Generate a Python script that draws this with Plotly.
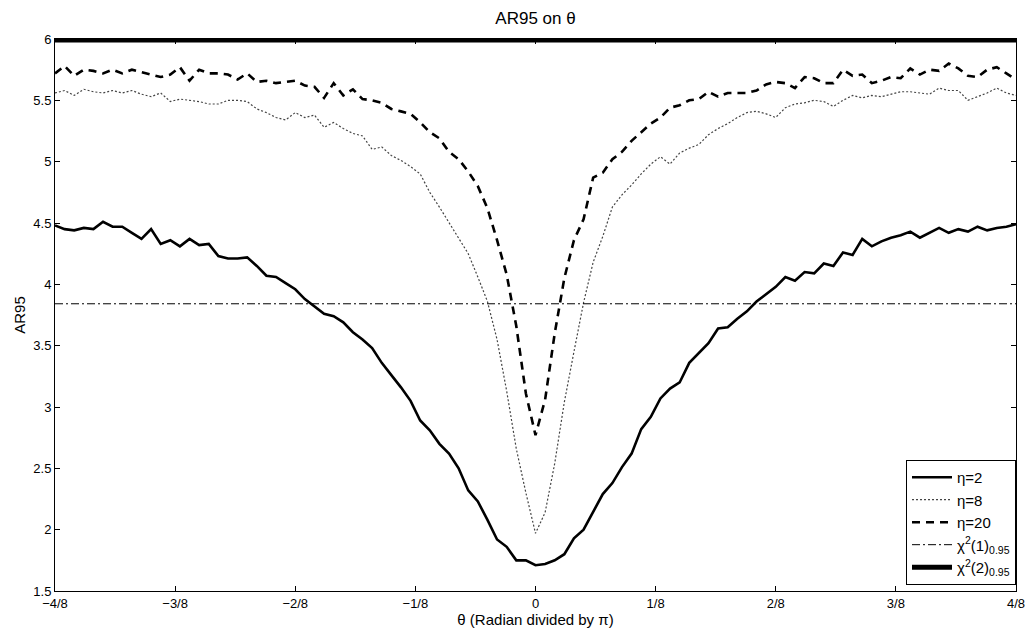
import numpy as np
import plotly.graph_objects as go

# theta grid (radian / pi)
theta = np.round(np.arange(-50, 51) / 100.0, 2)

eta2 = [4.48, 4.45, 4.44, 4.46, 4.45, 4.51, 4.47, 4.47, 4.42, 4.37,
        4.45, 4.33, 4.36, 4.31, 4.37, 4.32, 4.33, 4.23, 4.21, 4.21,
        4.22, 4.15, 4.07, 4.06, 4.01, 3.96, 3.88, 3.82, 3.76, 3.74,
        3.69, 3.61, 3.55, 3.48, 3.36, 3.26, 3.16, 3.05, 2.89, 2.81,
        2.70, 2.62, 2.50, 2.32, 2.23, 2.08, 1.92, 1.86, 1.75, 1.75,
        1.71,
        1.72, 1.75, 1.80, 1.93, 2.00, 2.14, 2.29, 2.38, 2.51, 2.62,
        2.82, 2.92, 3.07, 3.15, 3.20, 3.36, 3.44, 3.52, 3.64, 3.65,
        3.72, 3.78, 3.86, 3.92, 3.98, 4.06, 4.03, 4.10, 4.09, 4.17,
        4.15, 4.26, 4.24, 4.37, 4.31, 4.35, 4.38, 4.40, 4.43, 4.38,
        4.42, 4.46, 4.42, 4.45, 4.43, 4.47, 4.44, 4.46, 4.47, 4.49]

eta8 = [5.56, 5.58, 5.54, 5.59, 5.57, 5.56, 5.58, 5.56, 5.58, 5.55,
        5.53, 5.56, 5.49, 5.51, 5.50, 5.49, 5.47, 5.47, 5.50, 5.50,
        5.49, 5.43, 5.40, 5.36, 5.34, 5.40, 5.36, 5.38, 5.28, 5.32,
        5.27, 5.23, 5.21, 5.10, 5.12, 5.05, 5.01, 4.96, 4.90, 4.75,
        4.63, 4.50, 4.37, 4.25, 4.06, 3.86, 3.55, 3.13, 2.66, 2.30,
        1.97,
        2.14, 2.54, 3.04, 3.45, 3.85, 4.18, 4.39, 4.63, 4.73, 4.81,
        4.90, 4.98, 5.04, 4.98, 5.07, 5.11, 5.14, 5.22, 5.27, 5.31,
        5.36, 5.40, 5.41, 5.39, 5.36, 5.44, 5.47, 5.48, 5.50, 5.49,
        5.45, 5.50, 5.54, 5.52, 5.54, 5.53, 5.55, 5.57, 5.57, 5.56,
        5.55, 5.60, 5.58, 5.58, 5.50, 5.53, 5.56, 5.60, 5.56, 5.54]

eta20 = [5.72, 5.78, 5.70, 5.75, 5.74, 5.72, 5.75, 5.72, 5.75, 5.73,
         5.71, 5.69, 5.71, 5.77, 5.66, 5.75, 5.72, 5.72, 5.71, 5.67,
         5.72, 5.65, 5.66, 5.64, 5.65, 5.66, 5.62, 5.61, 5.52, 5.64,
         5.54, 5.59, 5.51, 5.50, 5.48, 5.43, 5.41, 5.39, 5.32, 5.24,
         5.19, 5.08, 5.02, 4.92, 4.80, 4.62, 4.36, 4.08, 3.66, 3.11,
         2.77,
         3.06, 3.60, 4.05, 4.36, 4.53, 4.87, 4.91, 5.02, 5.08, 5.17,
         5.24, 5.31, 5.36, 5.44, 5.46, 5.50, 5.51, 5.57, 5.53, 5.56,
         5.56, 5.56, 5.58, 5.63, 5.65, 5.64, 5.60, 5.69, 5.68, 5.64,
         5.64, 5.75, 5.70, 5.71, 5.64, 5.66, 5.69, 5.68, 5.76, 5.71,
         5.75, 5.74, 5.80, 5.76, 5.70, 5.69, 5.75, 5.77, 5.72, 5.67]

chi2_1 = 3.8415
chi2_2 = 5.9915

x_tickvals = [-0.5, -0.375, -0.25, -0.125, 0, 0.125, 0.25, 0.375, 0.5]
x_ticktext = ["\u22124/8", "\u22123/8", "\u22122/8", "\u22121/8", "0",
              "1/8", "2/8", "3/8", "4/8"]
y_tickvals = [1.5, 2, 2.5, 3, 3.5, 4, 4.5, 5, 5.5, 6]
y_ticktext = ["1.5", "2", "2.5", "3", "3.5", "4", "4.5", "5", "5.5", "6"]

xr = [theta[0], theta[-1]]

fig = go.Figure()
fig.add_trace(go.Scatter(x=theta, y=eta2, mode="lines", name="\u03b7=2",
                         line=dict(color="black", width=2.6)))
fig.add_trace(go.Scatter(x=theta, y=eta8, mode="lines", name="\u03b7=8",
                         line=dict(color="#444444", width=1.2, dash="2px,2px")))
fig.add_trace(go.Scatter(x=theta, y=eta20, mode="lines", name="\u03b7=20",
                         line=dict(color="black", width=2.6, dash="8px,6px")))
fig.add_trace(go.Scatter(x=xr, y=[chi2_1, chi2_1], mode="lines",
                         name="\u03c7<sup>2</sup>(1)<sub>0.95</sub>",
                         line=dict(color="black", width=1, dash="8px,3px,2px,3px")))
fig.add_trace(go.Scatter(x=xr, y=[chi2_2, chi2_2], mode="lines",
                         name="\u03c7<sup>2</sup>(2)<sub>0.95</sub>",
                         line=dict(color="black", width=5)))

font_family = "Arial, Liberation Sans, Helvetica, sans-serif"

fig.update_layout(
    width=1025, height=628,
    margin=dict(l=55, r=9, t=39, b=37),
    paper_bgcolor="white", plot_bgcolor="white",
    font=dict(family=font_family, size=13, color="black"),
    title=dict(text="AR95 on \u03b8", x=0.5, xref="paper", xanchor="center",
               y=1 - 18 / 628, yref="container", yanchor="middle",
               font=dict(size=17)),
    showlegend=True,
    legend=dict(x=1, y=0.011, xanchor="right", yanchor="bottom",
                bgcolor="white", bordercolor="black", borderwidth=1,
                font=dict(size=15), tracegroupgap=0, itemwidth=40),
)
fig.update_xaxes(range=[-0.5, 0.5], tickvals=x_tickvals, ticktext=x_ticktext,
                 ticks="inside", ticklen=5, tickcolor="black",
                 showline=True, linecolor="black", linewidth=1, mirror="ticks",
                 showgrid=False, zeroline=False, automargin=False,
                 ticklabeloverflow="allow",
                 tickfont=dict(size=13),
                 title=dict(text="\u03b8 (Radian divided by \u03c0)",
                            font=dict(size=15), standoff=0))
fig.update_yaxes(range=[1.5, 6], tickvals=y_tickvals, ticktext=y_ticktext,
                 ticks="inside", ticklen=5, tickcolor="black",
                 showline=True, linecolor="black", linewidth=1, mirror="ticks",
                 showgrid=False, zeroline=False, automargin=False,
                 tickfont=dict(size=13),
                 title=dict(text="AR95", font=dict(size=15), standoff=4))

fig.write_html(
    "out.html",
    config={"displayModeBar": False},
    post_script="document.body.style.margin='0';document.body.style.overflow='hidden';",
)
